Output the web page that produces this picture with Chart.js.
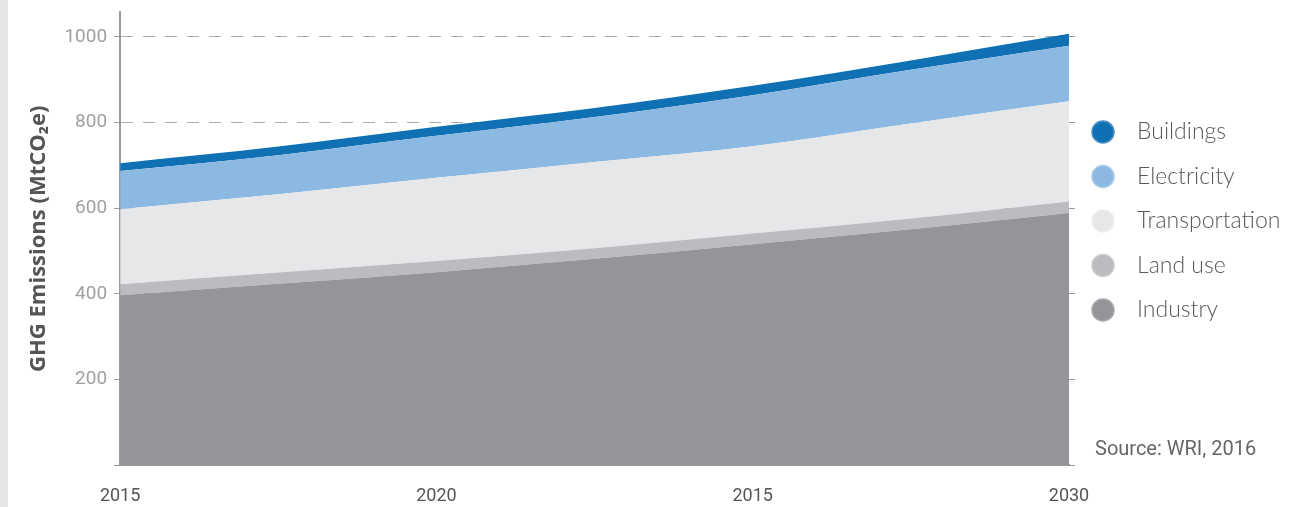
<!DOCTYPE html>
<html>
<head>
<meta charset="utf-8">
<script src="https://cdn.jsdelivr.net/npm/chart.js@4.4.0/dist/chart.umd.min.js"></script>
<style>
  html, body { margin: 0; padding: 0; }
  body { width: 1297px; height: 507px; background: linear-gradient(to right, #e6e6e6 8px, #ffffff 8px); }
  #wrap { width: 1297px; height: 507px; position: relative; }
</style>
</head>
<body>
<div id="wrap"><canvas id="ghgChart"></canvas></div>
<script>
// years (half-year steps in between)
var years = [2015, 2017.5, 2020, 2022.5, 2025, 2027.5, 2030];
var tickLabels = ["2015", "2020", "2015", "2030"];

// stacked layers, bottom to top (MtCO2e)
var industry       = [397, 424, 451, 482, 516, 551, 589];
var landUse        = [26, 26, 26, 25, 25, 25, 27];
var transportation = [175, 183, 194, 201, 204, 222, 234];
var electricity    = [89, 91, 98, 105, 119, 125, 129];
var buildings      = [18, 20, 21, 21, 22, 22, 28];

function pts(vals) {
  return vals.map(function (v, i) { return { x: years[i], y: v }; });
}

function layer(label, vals, color, ring, fill) {
  return {
    label: label,
    data: pts(vals),
    backgroundColor: color,
    borderColor: ring,
    borderWidth: 0,
    pointRadius: 0,
    fill: fill,
    cubicInterpolationMode: 'monotone'
  };
}

// only every 200 gets a tick, and the axis may run to the top edge
function keep200(s) { s.ticks = s.ticks.filter(function (t) { return t.value % 200 === 0; }); }
function noTopPad(s) { s.paddingTop = 0; }

// legend on the right, top item first, plus the source note
var sideNotes = {
  id: 'sideNotes',
  afterDraw: function (chart) {
    var ctx = chart.ctx;
    var left = chart.chartArea.right;
    var sets = chart.data.datasets.slice().reverse();
    ctx.save();
    ctx.textBaseline = 'middle';
    sets.forEach(function (ds, i) {
      var y = 132 + i * 44.5;
      ctx.beginPath();
      ctx.arc(left + 34, y, 11, 0, Math.PI * 2);
      ctx.fillStyle = ds.backgroundColor;
      ctx.fill();
      ctx.lineWidth = 1.5;
      ctx.strokeStyle = ds.borderColor;
      ctx.stroke();
      ctx.fillStyle = '#58595b';
      ctx.font = '300 23px Lato, Roboto, sans-serif';
      ctx.fillText(ds.label, left + 68, y);
    });
    ctx.font = '20px Roboto, sans-serif';
    ctx.fillStyle = '#666666';
    ctx.fillText('Source: WRI, 2016', left + 26, 450);
    ctx.restore();
  }
};

var ctxG = document.getElementById('ghgChart').getContext('2d');
var ghgChart = new Chart(ctxG, {
  type: 'line',
  data: {
    datasets: [
      layer('Industry', industry, '#939598', '#a9aaad', 'origin'),
      layer('Land use', landUse, '#bbbcbf', '#cbcccf', '-1'),
      layer('Transportation', transportation, '#e6e7e8', '#eeeeef', '-1'),
      layer('Electricity', electricity, '#8cb9e2', '#a7cbeb', '-1'),
      layer('Buildings', buildings, '#1070b4', '#4a92c9', '-1')
    ]
  },
  options: {
    responsive: true,
    maintainAspectRatio: false,
    animation: false,
    layout: { padding: { left: 22, top: 12, right: 222, bottom: -20 } },
    plugins: {
      legend: { display: false },
      tooltip: { enabled: false }
    },
    scales: {
      x: {
        type: 'linear',
        min: 2015,
        max: 2030,
        grid: { display: false, drawTicks: false },
        border: { color: '#9a9a9a', width: 2 },
        ticks: {
          stepSize: 5,
          padding: 20,
          color: '#555555',
          font: { family: 'Roboto, sans-serif', size: 18 },
          callback: function (v, i) { return tickLabels[i]; }
        }
      },
      y: {
        stacked: true,
        min: 0,
        max: 1058,
        afterBuildTicks: keep200,
        afterFit: noTopPad,
        grid: {
          color: '#aaaaaa',
          lineWidth: 1,
          tickLength: 6,
          tickColor: '#9a9a9a',
          tickBorderDash: []
        },
        border: { color: '#9a9a9a', width: 2, dash: [12, 10] },
        ticks: {
          stepSize: 200,
          padding: 7,
          color: '#a0a0a0',
          font: { family: 'Roboto, sans-serif', size: 19 },
          callback: function (v) { return v === 0 ? '' : v; }
        },
        title: {
          display: true,
          text: 'GHG Emissions (MtCO\u2082e)',
          color: '#555555',
          padding: { top: 4, bottom: 5 },
          font: { family: '"Open Sans", sans-serif', size: 22, weight: 'bold' }
        }
      },
      yR: {
        position: 'right',
        min: 0,
        max: 1058,
        afterBuildTicks: keep200,
        afterFit: noTopPad,
        grid: { drawOnChartArea: false, tickLength: 6, tickColor: '#9a9a9a' },
        border: { display: false },
        ticks: { stepSize: 200, padding: 0, callback: function () { return ''; } }
      }
    }
  },
  plugins: [sideNotes]
});
</script>
</body>
</html>
